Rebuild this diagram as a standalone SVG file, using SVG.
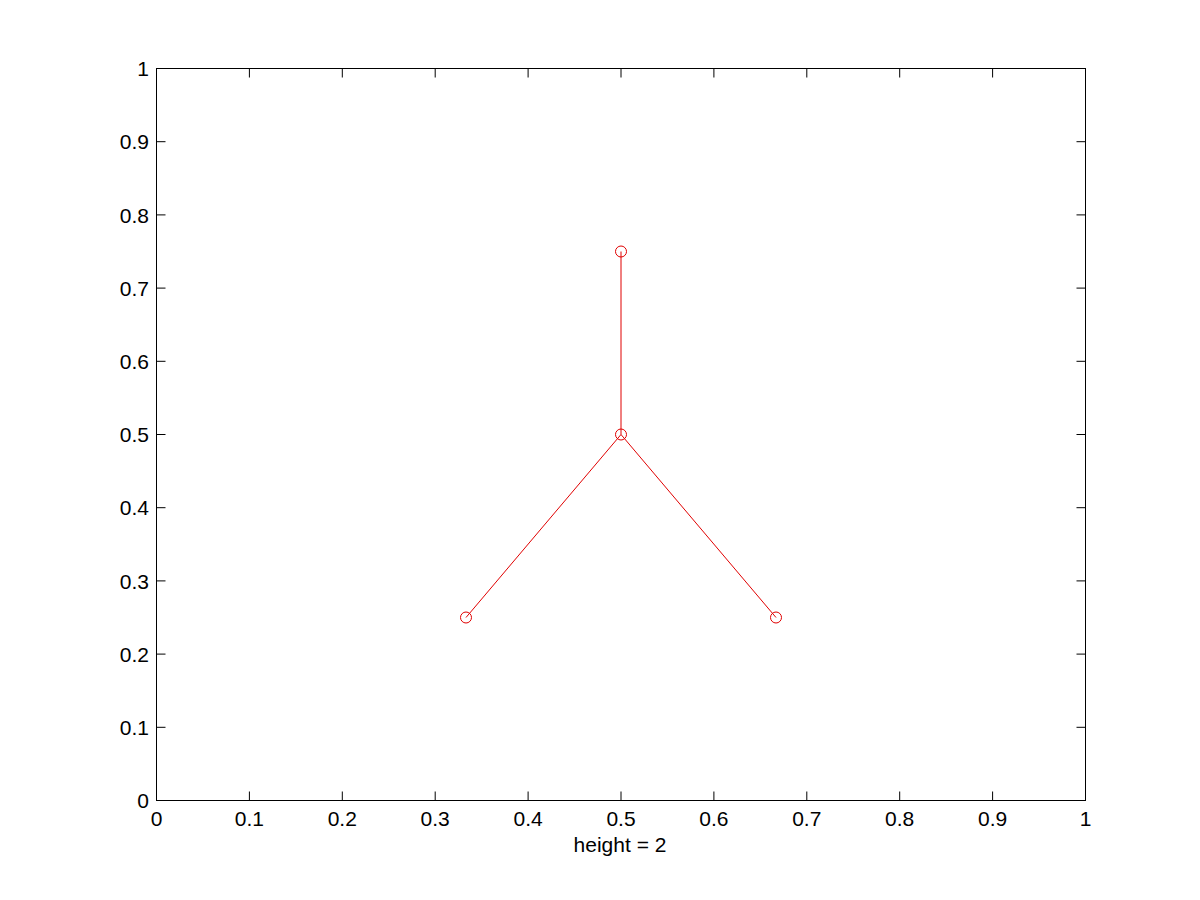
<svg xmlns="http://www.w3.org/2000/svg" width="1200" height="900" viewBox="0 0 1200 900">
<style>
.ax{fill:none;stroke:#000;stroke-width:1}
.tk{stroke:#000;stroke-width:1}
.lb{font-family:"Liberation Sans",Arial,sans-serif;font-size:21px;fill:#000}
.yl{text-anchor:end}
.xl{text-anchor:middle}
.edge{stroke:#e00000;stroke-width:1;fill:none}
.nd{stroke:#e00000;stroke-width:1;fill:none}
</style>
<rect width="1200" height="900" fill="#fff"/>
<g id="axes">
<rect class="ax" x="156.5" y="68.5" width="929" height="732"/>
<path class="tk" d="M249.4 800.5v-9M342.3 800.5v-9M435.2 800.5v-9M528.1 800.5v-9M621 800.5v-9M713.9 800.5v-9M806.8 800.5v-9M899.7 800.5v-9M992.6 800.5v-9
M249.4 68.5v9M342.3 68.5v9M435.2 68.5v9M528.1 68.5v9M621 68.5v9M713.9 68.5v9M806.8 68.5v9M899.7 68.5v9M992.6 68.5v9
M156.5 727.3h9M156.5 654.1h9M156.5 580.9h9M156.5 507.7h9M156.5 434.5h9M156.5 361.3h9M156.5 288.1h9M156.5 214.9h9M156.5 141.7h9
M1085.5 727.3h-9M1085.5 654.1h-9M1085.5 580.9h-9M1085.5 507.7h-9M1085.5 434.5h-9M1085.5 361.3h-9M1085.5 288.1h-9M1085.5 214.9h-9M1085.5 141.7h-9"/>
<g class="lb yl">
<text x="149" y="808">0</text>
<text x="149" y="735">0.1</text>
<text x="149" y="662">0.2</text>
<text x="149" y="589">0.3</text>
<text x="149" y="515">0.4</text>
<text x="149" y="442">0.5</text>
<text x="149" y="369">0.6</text>
<text x="149" y="296">0.7</text>
<text x="149" y="223">0.8</text>
<text x="149" y="149">0.9</text>
<text x="149" y="76">1</text>
</g>
<g class="lb xl">
<text x="156.5" y="826">0</text>
<text x="249.4" y="826">0.1</text>
<text x="342.3" y="826">0.2</text>
<text x="435.2" y="826">0.3</text>
<text x="528.1" y="826">0.4</text>
<text x="621" y="826">0.5</text>
<text x="713.9" y="826">0.6</text>
<text x="806.8" y="826">0.7</text>
<text x="899.7" y="826">0.8</text>
<text x="992.6" y="826">0.9</text>
<text x="1085.5" y="826">1</text>
<text x="620" y="852">height = 2</text>
</g>
</g>
<g id="connectors">
<line class="edge" x1="621" y1="251.5" x2="621" y2="434.5"/>
<line class="edge" x1="621" y1="434.5" x2="466" y2="617.5"/>
<line class="edge" x1="621" y1="434.5" x2="776" y2="617.5"/>
</g>
<g id="n1"><circle class="nd" cx="621" cy="251.5" r="5.5"/></g>
<g id="n2"><circle class="nd" cx="621" cy="434.5" r="5.5"/></g>
<g id="n3"><circle class="nd" cx="466" cy="617.5" r="5.5"/></g>
<g id="n4"><circle class="nd" cx="776" cy="617.5" r="5.5"/></g>
</svg>
